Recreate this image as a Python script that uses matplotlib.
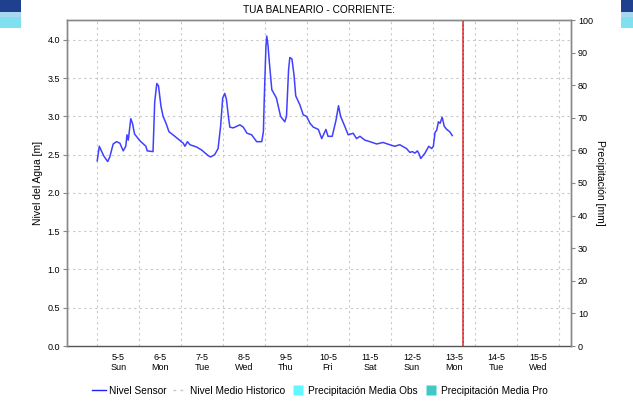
import matplotlib
matplotlib.use("Agg")
import matplotlib.pyplot as plt
from matplotlib.lines import Line2D
from matplotlib.patches import Rectangle

plt.rcParams['font.family'] = ['Liberation Sans', 'DejaVu Sans']

# Time in days since 5-5 00:00
days = [0.00, 0.05, 0.10, 0.16, 0.25, 0.30, 0.38, 0.46, 0.54, 0.62, 0.68, 0.71, 0.74, 0.80, 0.84, 0.89,
        1.02, 1.16, 1.19, 1.33, 1.37, 1.42, 1.46, 1.52, 1.57, 1.64, 1.71, 1.85, 2.05, 2.09, 2.15, 2.21,
        2.37, 2.49, 2.64, 2.70, 2.80, 2.88, 2.94, 2.99, 3.04, 3.08, 3.13, 3.16, 3.24, 3.40, 3.48, 3.57,
        3.68, 3.80, 3.92, 3.96, 3.98, 4.02, 4.04, 4.07, 4.10, 4.16, 4.27, 4.37, 4.47, 4.51, 4.56, 4.59,
        4.64, 4.69, 4.73, 4.83, 4.91, 4.99, 5.07, 5.15, 5.27, 5.35, 5.45, 5.50, 5.60, 5.69, 5.75, 5.80,
        5.90, 5.98, 6.10, 6.18, 6.26, 6.38, 6.50, 6.66, 6.81, 6.97, 7.09, 7.21, 7.37, 7.45, 7.51, 7.57,
        7.63, 7.67, 7.71, 7.81, 7.90, 7.97, 8.01, 8.05, 8.09, 8.13, 8.17, 8.22, 8.27, 8.33, 8.40, 8.46]
nivel = [2.42, 2.61, 2.55, 2.48, 2.41, 2.47, 2.64, 2.67, 2.65, 2.55, 2.61, 2.76, 2.69, 2.97, 2.91, 2.77,
         2.68, 2.61, 2.55, 2.54, 3.19, 3.43, 3.40, 3.13, 3.00, 2.91, 2.80, 2.74, 2.65, 2.61, 2.67, 2.63,
         2.60, 2.56, 2.49, 2.47, 2.50, 2.58, 2.87, 3.24, 3.30, 3.22, 2.98, 2.86, 2.85, 2.89, 2.86, 2.78,
         2.76, 2.67, 2.67, 2.80, 3.22, 3.91, 4.05, 3.93, 3.72, 3.35, 3.24, 3.00, 2.93, 3.00, 3.61, 3.77,
         3.75, 3.54, 3.27, 3.15, 3.02, 3.00, 2.91, 2.86, 2.83, 2.71, 2.83, 2.74, 2.74, 2.95, 3.14, 3.00,
         2.87, 2.76, 2.78, 2.71, 2.74, 2.69, 2.67, 2.64, 2.66, 2.63, 2.61, 2.63, 2.58, 2.53, 2.54, 2.52,
         2.55, 2.51, 2.45, 2.52, 2.61, 2.58, 2.61, 2.79, 2.82, 2.93, 2.91, 2.99, 2.87, 2.83, 2.80, 2.75]

now_day = 8.72
day_labels = ["5-5\nSun", "6-5\nMon", "7-5\nTue", "8-5\nWed", "9-5\nThu", "10-5\nFri",
              "11-5\nSat", "12-5\nSun", "13-5\nMon", "14-5\nTue", "15-5\nWed"]
left_ticks = [0.0, 0.5, 1.0, 1.5, 2.0, 2.5, 3.0, 3.5, 4.0]
right_ticks = [0, 10, 20, 30, 40, 50, 60, 70, 80, 90, 100]
legend_labels = ["Nivel Sensor", "Nivel Medio Historico", "Precipitación Media Obs", "Precipitación Media Pro"]

fig = plt.figure(figsize=(6.33, 4.04), dpi=100)
fig.patch.set_facecolor('white')

# decorative page banner edges
W, H = 633, 404
for x0, w in [(0, 21), (621, 12)]:
    fig.patches.append(Rectangle((x0 / W, 1 - 12 / H), w / W, 12 / H, transform=fig.transFigure,
                                 facecolor='#1f3f8f', edgecolor='none', zorder=0))
    fig.patches.append(Rectangle((x0 / W, 1 - 17 / H), w / W, 5 / H, transform=fig.transFigure,
                                 facecolor='#a8d8f0', edgecolor='none', zorder=0))
    fig.patches.append(Rectangle((x0 / W, 1 - 28 / H), w / W, 11 / H, transform=fig.transFigure,
                                 facecolor='#7fe0f0', edgecolor='none', zorder=0))

ax = fig.add_axes([67 / W, 1 - 346 / H, (571 - 67) / W, (346 - 20) / H])
ax2 = ax.twinx()

grid_col = '#c8c8c8'
ax.set_xlim(-0.72, 11.29)
ax.set_ylim(0, 4.26)
ax2.set_ylim(0, 100)

ax.set_yticks(left_ticks)
ax.set_yticklabels([f"{v:.1f}" for v in left_ticks])
ax2.set_yticks(right_ticks)
ax.set_xticks([i + 0.5 for i in range(len(day_labels))])
ax.set_xticklabels(day_labels)

ax.grid(False)
for v in left_ticks[1:]:
    ax.axhline(v, color=grid_col, lw=0.8, ls=(0, (2, 3)), zorder=1)
for d in range(0, 12):
    ax.axvline(d, color=grid_col, lw=0.8, ls=(0, (2, 3)), zorder=1)

ax.plot(days, nivel, color='#4040ff', lw=1.1, zorder=3)
ax.axvline(now_day, color='#e03a3a', lw=1.2, zorder=4)
ax.axvline(now_day, color='#8a1a1a', lw=0.6, ls=(0, (1, 4)), zorder=5)

for a in (ax, ax2):
    for s in a.spines.values():
        s.set_color('#888888')
        s.set_linewidth(1.0)
ax.spines['bottom'].set_linestyle((0, (1, 1)))
ax.spines['bottom'].set_color('#555555')
ax2.spines['bottom'].set_visible(False)

ax.tick_params(axis='y', labelsize=6.5, length=3, width=0.8, color='#888888', pad=2)
ax2.tick_params(axis='y', labelsize=6.5, length=3, width=0.8, color='#888888', pad=2)
ax.tick_params(axis='x', which='both', labelsize=6.5, length=0, pad=5)
for lbl in ax.get_xticklabels():
    lbl.set_linespacing(1.1)

ax.set_ylabel("Nivel del Agua [m]", fontsize=7.5, labelpad=3)
ax2.set_ylabel("Precipitación [mm]", fontsize=7.5, rotation=270, labelpad=9)
ax.set_title("TUA BALNEARIO - CORRIENTE:", fontsize=7.3, pad=5)

handles = [
    Line2D([], [], color='#2020ff', lw=1.0),
    Line2D([], [], color='#c8c8c8', lw=1.0, ls=(0, (2, 3))),
    Line2D([], [], marker='s', ls='none', markersize=7.5, markerfacecolor='#5ff8ff', markeredgecolor='none'),
    Line2D([], [], marker='s', ls='none', markersize=7.5, markerfacecolor='#40c8c8', markeredgecolor='none'),
]
fig.legend(handles, legend_labels, loc='center', bbox_to_anchor=(320 / W, 1 - 391 / H), ncol=4,
           frameon=False, fontsize=7.3, handlelength=1.4, handletextpad=0.3, columnspacing=0.6)

fig.savefig("out.png", dpi=100, facecolor='white')
